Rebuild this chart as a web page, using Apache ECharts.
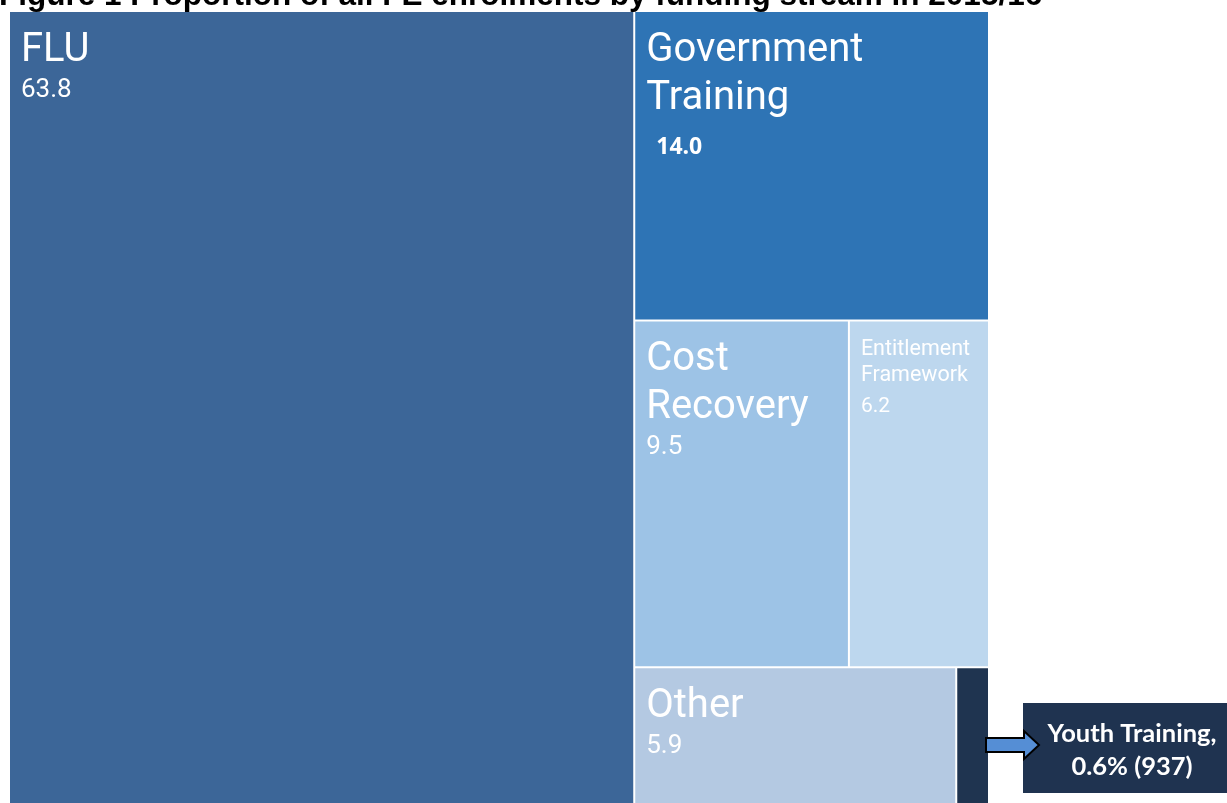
<!DOCTYPE html>
<html>
<head>
<meta charset="utf-8">
<title>FE enrolments by funding stream</title>
<script src="https://cdn.jsdelivr.net/npm/echarts@6/dist/echarts.min.js"></script>
<style>
  html, body { margin: 0; padding: 0; background: #ffffff; }
  #chart { width: 1227px; height: 803px; }
</style>
</head>
<body>
<div id="chart"></div>
<script>
// Funding streams and their share (%) of all FE enrolments
const categories = ['FLU', 'Government Training', 'Cost Recovery', 'Entitlement Framework', 'Other', 'Youth Training'];
const displayNames = ['FLU', 'Government\nTraining', 'Cost\nRecovery', 'Entitlement\nFramework', 'Other', 'Youth Training'];
const shares = [63.8, 14.0, 9.5, 6.2, 5.9, 0.6];
const youthEnrolments = 937;

const titleText = 'Figure 1 Proportion of all FE enrolments by funding stream in 2015/16';

// Cell colours, one per funding stream
const palette = ['#3c6698', '#2e74b5', '#9dc3e6', '#bdd7ee', '#b4c9e2', '#1f3450'];

// Streams with a smaller label, with a bold value, and with no in-cell label
const smallLabel = new Set(['Entitlement Framework']);
const boldValue = new Set(['Government Training']);
const noLabel = new Set(['Youth Training']);

const data = categories.map((name, i) => {
  const small = smallLabel.has(name);
  const bold = boldValue.has(name);
  const nameKey = small ? 'ns' : 'nb';
  const valKey = small ? 'vs' : (bold ? 'vbold' : 'vb');
  return {
    name: name,
    value: shares[i],
    itemStyle: { color: palette[i] },
    label: {
      show: !noLabel.has(name),
      formatter: () => '{' + nameKey + '|' + displayNames[i] + '}\n{' + valKey + '|' + shares[i].toFixed(1) + '}'
    }
  };
});

const chart = echarts.init(document.getElementById('chart'), null, { renderer: 'canvas' });

const youthIdx = categories.indexOf('Youth Training');
const calloutText = categories[youthIdx] + ',\n' + shares[youthIdx].toFixed(1) + '% (' + youthEnrolments + ')';

chart.setOption({
  animation: false,
  backgroundColor: '#ffffff',
  series: [{
    type: 'treemap',
    left: 10,
    top: 12,
    width: 978,
    height: 798,
    roam: false,
    nodeClick: false,
    sort: 'desc',
    breadcrumb: { show: false },
    levels: [{ itemStyle: { gapWidth: 2, borderWidth: 0, borderColor: '#ffffff' } }],
    itemStyle: { borderWidth: 0, gapWidth: 0 },
    emphasis: { disabled: true },
    label: {
      show: true,
      position: [6, 10],
      color: '#ffffff',
      fontFamily: 'Roboto',
      overflow: 'none',
      rich: {
        nb: { fontFamily: 'Roboto', fontSize: 40, lineHeight: 48, color: '#ffffff' },
        vb: { fontFamily: 'Roboto', fontSize: 26, lineHeight: 31, color: '#ffffff' },
        vbold: { fontFamily: 'Open Sans', fontWeight: 'bold', fontSize: 23, lineHeight: 48, color: '#ffffff', padding: [0, 0, 0, 10] },
        ns: { fontFamily: 'Roboto', fontSize: 21.5, lineHeight: 26, color: '#ffffff' },
        vs: { fontFamily: 'Roboto', fontSize: 21, lineHeight: 36, color: '#ffffff' }
      }
    },
    upperLabel: { show: false },
    data: data
  }],
  graphic: [
    {
      type: 'text',
      z: 10,
      style: {
        x: -1,
        y: -3.4,
        text: titleText,
        font: 'bold 31.5px "Liberation Sans", Arial, sans-serif',
        fill: '#000000',
        align: 'left',
        verticalAlign: 'middle'
      }
    },
    {
      type: 'rect',
      z: 10,
      shape: { x: 1023, y: 703, width: 210, height: 90 },
      style: { fill: '#1f3350' }
    },
    {
      type: 'text',
      z: 11,
      style: {
        x: 1132,
        y: 750,
        text: calloutText,
        font: 'bold 25.5px Lato, "Open Sans", sans-serif',
        lineHeight: 33,
        fill: '#ffffff',
        align: 'center',
        verticalAlign: 'middle'
      }
    },
    {
      type: 'polygon',
      z: 12,
      shape: {
        points: [[986, 738], [1024, 738], [1024, 731], [1039, 745], [1024, 759], [1024, 752], [986, 752]]
      },
      style: { fill: '#558ed5', stroke: '#000000', lineWidth: 2, lineJoin: 'miter' }
    }
  ]
});
</script>
</body>
</html>
